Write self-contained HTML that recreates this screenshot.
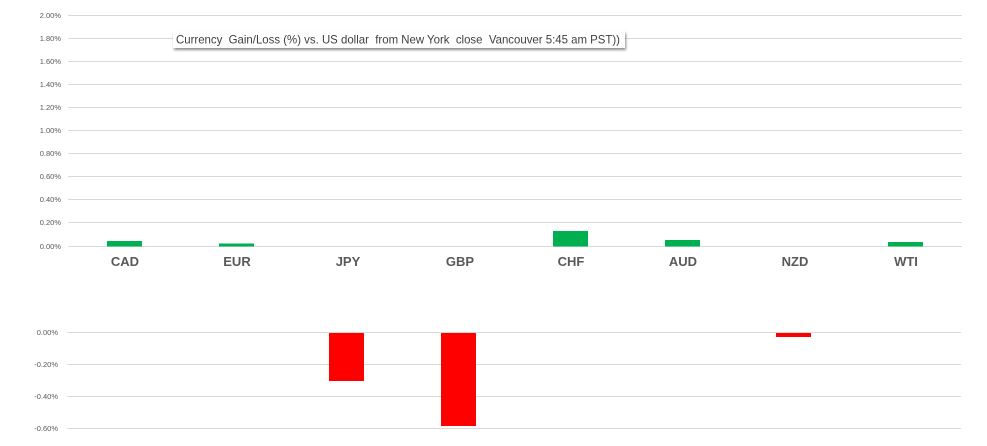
<!DOCTYPE html>
<html>
<head>
<meta charset="utf-8">
<style>
html,body{margin:0;padding:0;background:#fff;}
body{width:987px;height:446px;overflow:hidden;}
svg{display:block;}
.yl{font-family:"Liberation Sans",sans-serif;font-size:7.5px;fill:#595959;}
.xl{font-family:"Liberation Sans",sans-serif;font-size:13px;font-weight:bold;fill:#595959;}
.tt{white-space:pre;}
</style>
</head>
<body>
<svg width="987" height="446" viewBox="0 0 987 446" xmlns="http://www.w3.org/2000/svg">
  <defs>
    <filter id="sh" x="-5%" y="-50%" width="110%" height="200%">
      <feDropShadow dx="1" dy="2" stdDeviation="1.2" flood-color="#000" flood-opacity="0.45"/>
    </filter>
  </defs>
  <!-- top gridlines -->
  <g stroke="#d9d9d9" stroke-width="1">
    <line x1="68" x2="962" y1="15.5" y2="15.5"/>
    <line x1="68" x2="962" y1="38.5" y2="38.5"/>
    <line x1="68" x2="962" y1="61.5" y2="61.5"/>
    <line x1="68" x2="962" y1="84.5" y2="84.5"/>
    <line x1="68" x2="962" y1="107.5" y2="107.5"/>
    <line x1="68" x2="962" y1="130.5" y2="130.5"/>
    <line x1="68" x2="962" y1="153.5" y2="153.5"/>
    <line x1="68" x2="962" y1="176.5" y2="176.5"/>
    <line x1="68" x2="962" y1="199.5" y2="199.5"/>
    <line x1="68" x2="962" y1="222.5" y2="222.5"/>
    <line x1="68" x2="962" y1="246.5" y2="246.5"/>
  </g>
  <g class="yl" text-anchor="end">
    <text x="61" y="18">2.00%</text>
    <text x="61" y="41">1.80%</text>
    <text x="61" y="64">1.60%</text>
    <text x="61" y="87">1.40%</text>
    <text x="61" y="110">1.20%</text>
    <text x="61" y="133">1.00%</text>
    <text x="61" y="156">0.80%</text>
    <text x="61" y="179">0.60%</text>
    <text x="61" y="202">0.40%</text>
    <text x="61" y="225">0.20%</text>
    <text x="61" y="249">0.00%</text>
  </g>
  <!-- green bars -->
  <g fill="#00b050">
    <rect x="107" y="241" width="35" height="5.5"/>
    <rect x="219" y="243.5" width="35" height="3"/>
    <rect x="553" y="231" width="35" height="15.5"/>
    <rect x="665" y="240" width="35" height="6.5"/>
    <rect x="888" y="242" width="35" height="4.5"/>
  </g>
  <g class="xl" text-anchor="middle">
    <text x="125" y="266">CAD</text>
    <text x="237" y="266">EUR</text>
    <text x="348" y="266">JPY</text>
    <text x="460" y="266">GBP</text>
    <text x="571" y="266">CHF</text>
    <text x="683" y="266">AUD</text>
    <text x="795" y="266">NZD</text>
    <text x="906" y="266">WTI</text>
  </g>
  <!-- title box -->
  <rect x="173" y="31" width="452" height="17" fill="#fff" filter="url(#sh)"/>
  <text class="tt" x="176" y="43.5" font-family="Liberation Sans, sans-serif" font-size="11.6px" fill="#404040" textLength="444" lengthAdjust="spacingAndGlyphs">Currency  Gain/Loss (%) vs. US dollar  from New York  close  Vancouver 5:45 am PST))</text>

  <!-- bottom chart -->
  <g stroke="#d9d9d9" stroke-width="1">
    <line x1="67" x2="961" y1="332.5" y2="332.5"/>
    <line x1="67" x2="961" y1="364.5" y2="364.5"/>
    <line x1="67" x2="961" y1="396.5" y2="396.5"/>
    <line x1="67" x2="961" y1="428.5" y2="428.5"/>
  </g>
  <g class="yl" text-anchor="end">
    <text x="58" y="335">0.00%</text>
    <text x="58" y="367">-0.20%</text>
    <text x="58" y="399">-0.40%</text>
    <text x="58" y="431">-0.60%</text>
  </g>
  <g fill="#ff0000">
    <rect x="329" y="333" width="35" height="48"/>
    <rect x="441" y="333" width="35" height="93"/>
    <rect x="776" y="333" width="35" height="4"/>
  </g>
</svg>
</body>
</html>
